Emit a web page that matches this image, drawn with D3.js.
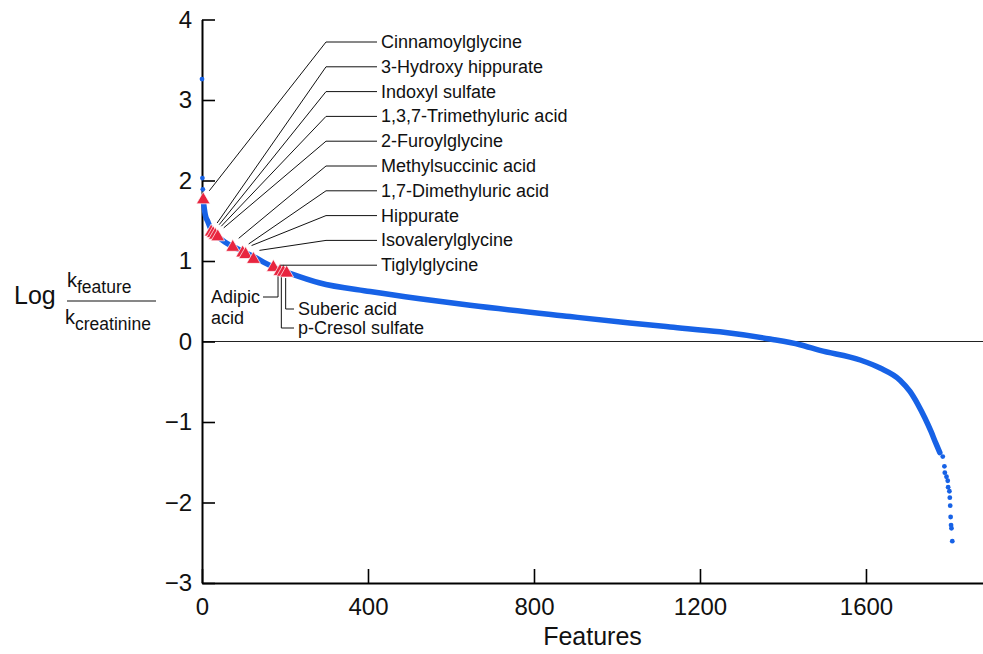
<!DOCTYPE html>
<html>
<head>
<meta charset="utf-8">
<script src="https://cdn.jsdelivr.net/npm/d3@7"></script>
<style>
  body { margin: 0; background: #fff; }
  svg text { font-family: "Liberation Sans", Arial, Helvetica, sans-serif; fill: #111; }
</style>
</head>
<body>
<div id="chart"></div>
<script>
// Ranked features (x) and log(k_feature / k_creatinine) (y).
// Sparse points at the very top of the ranking:
const headRanks = [0, 1, 2];
const headValues = [3.26, 2.03, 1.89];

// The dense band of ~1800 features, traced along its centre:
const curveRanks = [3, 8, 14, 22, 34, 54, 74, 98, 126, 154, 178, 210, 282, 405, 525, 646, 887, 1031, 1128, 1248, 1369, 1441, 1489, 1586, 1634, 1682, 1706, 1725, 1742, 1757, 1768, 1778];
const curveValues = [1.75, 1.57, 1.49, 1.39, 1.32, 1.24, 1.18, 1.12, 1.05, 0.97, 0.91, 0.85, 0.73, 0.62, 0.53, 0.45, 0.31, 0.23, 0.18, 0.12, 0.03, -0.04, -0.11, -0.23, -0.33, -0.48, -0.62, -0.78, -0.95, -1.12, -1.26, -1.38];

// Separated points in the lower tail:
const tailRanks = [1785, 1789, 1790, 1794, 1797, 1798, 1801, 1802, 1803, 1804, 1805, 1806, 1808];
const tailValues = [-1.43, -1.55, -1.63, -1.68, -1.73, -1.81, -1.86, -1.94, -2.04, -2.18, -2.28, -2.32, -2.48];

// Highlighted metabolites (red triangles). First ten are labelled on the
// right, the last three underneath the curve.
const metabolites = ['Cinnamoylglycine', '3-Hydroxy hippurate', 'Indoxyl sulfate', '1,3,7-Trimethyluric acid', '2-Furoylglycine', 'Methylsuccinic acid', '1,7-Dimethyluric acid', 'Hippurate', 'Isovalerylglycine', 'Tiglylglycine', 'Adipic acid', 'p-Cresol sulfate', 'Suberic acid'];
const metaboliteRanks = [3, 22, 27, 32, 38, 74, 98, 105, 124, 172, 188, 196, 204];
const metaboliteValues = [1.76, 1.36, 1.34, 1.32, 1.30, 1.17, 1.10, 1.08, 1.02, 0.92, 0.87, 0.86, 0.85];

// Tick labels
const xTicks = [0, 400, 800, 1200, 1600];
const yTicks = [-3, -2, -1, 0, 1, 2, 3, 4];

const width = 983;
const height = 654;
const blue = '#1762e6';
const red = '#e8253f';

const svg = d3.select('#chart')
  .append('svg')
  .attr('width', width)
  .attr('height', height);

const x = d3.scaleLinear().domain([0, 1882]).range([202, 983]);
const y = d3.scaleLinear().domain([-3, 4]).range([583, 19.5]);

// zero reference line
svg.append('line')
  .attr('x1', x(0)).attr('x2', x.range()[1])
  .attr('y1', y(0)).attr('y2', y(0))
  .attr('stroke', '#222')
  .attr('stroke-width', 1);

// axes, ticks point into the plot
const fmt = d => (d < 0 ? '\u2212' + Math.abs(d) : String(d));

const yAxis = svg.append('g')
  .attr('transform', `translate(${x(0)},0)`)
  .call(d3.axisLeft(y).tickValues(yTicks).tickSizeInner(-13).tickSizeOuter(0).tickPadding(10).tickFormat(fmt));

const xAxis = svg.append('g')
  .attr('transform', `translate(0,${y(-3)})`)
  .call(d3.axisBottom(x).tickValues(xTicks).tickSizeInner(-14).tickSizeOuter(0).tickPadding(15).tickFormat(fmt));

[xAxis, yAxis].forEach(ax => {
  ax.select('.domain').attr('stroke', '#000').attr('stroke-width', 2);
  ax.selectAll('.tick line').attr('stroke', '#000').attr('stroke-width', 1.6);
  ax.selectAll('.tick text')
    .attr('fill', '#111')
    .style('font-size', '24px')
    .style('font-family', '"Liberation Sans", Arial, sans-serif');
});

// axis titles
svg.append('text')
  .attr('x', x.range()[0] + (x.range()[1] - x.range()[0]) / 2)
  .attr('y', 645)
  .attr('text-anchor', 'middle')
  .style('font-size', '25px')
  .text('Features');

const yTitle = svg.append('g');
yTitle.append('text').attr('x', 14).attr('y', 304).style('font-size', '25px').text('Log');
const num = yTitle.append('text').attr('x', 67).attr('y', 287).style('font-size', '20px');
num.append('tspan').text('k');
num.append('tspan').attr('dy', 6).style('font-size', '17.5px').text('feature');
yTitle.append('line')
  .attr('x1', 67).attr('x2', 156).attr('y1', 301).attr('y2', 301)
  .attr('stroke', '#111').attr('stroke-width', 1.2);
const den = yTitle.append('text').attr('x', 65).attr('y', 324).style('font-size', '20px');
den.append('tspan').text('k');
den.append('tspan').attr('dy', 6).style('font-size', '17.5px').text('creatinine');

// the dense curve
const curve = curveRanks.map((r, i) => [r, curveValues[i]]);
svg.append('path')
  .datum(curve)
  .attr('fill', 'none')
  .attr('stroke', blue)
  .attr('stroke-width', 5.5)
  .attr('stroke-linecap', 'round')
  .attr('d', d3.line().x(d => x(d[0])).y(d => y(d[1])).curve(d3.curveMonotoneX));

// individual points at head and tail
const dots = headRanks.map((r, i) => [r, headValues[i]])
  .concat(tailRanks.map((r, i) => [r, tailValues[i]]));
svg.append('g')
  .selectAll('circle')
  .data(dots)
  .enter()
  .append('circle')
  .attr('cx', d => x(d[0]))
  .attr('cy', d => y(d[1]))
  .attr('r', 2.4)
  .attr('fill', blue);

// highlighted metabolites
const marks = metabolites.map((name, i) => ({
  name,
  px: x(metaboliteRanks[i]),
  py: y(metaboliteValues[i])
}));

svg.append('g')
  .selectAll('path')
  .data(marks)
  .enter()
  .append('path')
  .attr('transform', d => `translate(${d.px},${d.py})`)
  .attr('d', d3.symbol(d3.symbolTriangle, 82))
  .attr('fill', red)
  .attr('stroke', '#fff')
  .attr('stroke-width', 0.7);

// right-hand labels with elbow leaders
const labelTop = 42;
const labelStep = 24.8;
const elbowX = 326;
const textX = 381;
const leaders = svg.append('g').attr('stroke', '#111').attr('stroke-width', 1).attr('fill', 'none');

marks.slice(0, 10).forEach((m, i) => {
  const ly = labelTop + i * labelStep;
  let pts;
  if (ly > m.py - 12) {
    pts = [[m.px + 7, ly], [textX - 4, ly]];
  } else {
    pts = [[m.px + 6, m.py - 9], [elbowX, ly], [textX - 4, ly]];
  }
  leaders.append('path').attr('d', d3.line()(pts));
  svg.append('text')
    .attr('x', textX)
    .attr('y', ly + 6)
    .style('font-size', '18px')
    .text(m.name);
});

// labels underneath the curve
const adipic = marks[10];
leaders.append('path').attr('d', d3.line()([[adipic.px - 2, adipic.py + 5], [adipic.px - 2, 297], [263, 297]]));
svg.append('text').attr('x', 211).attr('y', 303).style('font-size', '18px').text('Adipic');
svg.append('text').attr('x', 211).attr('y', 324).style('font-size', '18px').text('acid');

const cresol = marks[11];
leaders.append('path').attr('d', d3.line()([[cresol.px - 2, cresol.py + 5], [cresol.px - 2, 328], [294, 328]]));
svg.append('text').attr('x', 298).attr('y', 334).style('font-size', '18px').text(cresol.name);

const suberic = marks[12];
leaders.append('path').attr('d', d3.line()([[suberic.px - 1, suberic.py + 5], [suberic.px - 1, 309], [294, 309]]));
svg.append('text').attr('x', 298).attr('y', 315).style('font-size', '18px').text(suberic.name);
</script>
</body>
</html>
